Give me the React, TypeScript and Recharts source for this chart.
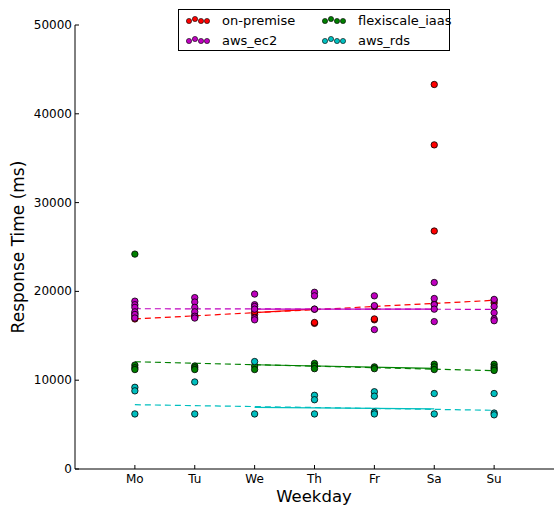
import React from "react";
import { ComposedChart, Scatter, Line, XAxis, YAxis } from "recharts";

const days = ["Mo", "Tu", "We", "Th", "Fr", "Sa", "Su"];
const yTicks = [0, 10000, 20000, 30000, 40000, 50000];

// response times per weekday (ms)
const onPremise = [
  [16900, 17200, 17500],
  [17100, 17300],
  [17400, 17700],
  [16400, 16500, 18000],
  [16800, 16900, 18300],
  [43300, 36500, 26800, 18600],
  [18700, 19000],
];
const awsEc2 = [
  [18900, 18500, 18200, 17700, 17400, 17000],
  [19300, 18800, 18200, 17700, 17200, 17000],
  [19700, 18500, 18300, 18000, 17000, 16800],
  [19900, 19500, 18000],
  [19500, 18400, 15700],
  [21000, 19200, 18500, 18000, 16600],
  [19100, 18300, 17600, 16900, 16700],
];
const flexiscale = [
  [24200, 11700, 11400, 11200],
  [11600, 11400, 11200],
  [11600, 11200],
  [11900, 11600, 11300],
  [11500, 11300],
  [11800, 11500, 11200],
  [11800, 11500, 11300, 11100],
];
const awsRds = [
  [9200, 8800, 6200],
  [9800, 6200],
  [12100, 6200],
  [8300, 7800, 6200],
  [8700, 8200, 6400, 6200],
  [8500, 6200],
  [8500, 6300, 6100],
];

// trend lines: [dayIndex, value]
const trendDashed = {
  onPremise: [[0, 16900], [6, 19000]],
  awsEc2: [[0, 18050], [6, 17980]],
  flexiscale: [[0, 12080], [6, 11070]],
  awsRds: [[0, 7240], [6, 6610]],
};
const trendSolid = {
  onPremise: [[2, 17600], [3, 18000]],
  awsEc2: [[2, 18000], [5, 18000]],
  flexiscale: [[2, 11740], [5, 11340]],
  awsRds: [[2, 6940], [5, 6760]],
};

const series = [
  { key: "onPremise", name: "on-premise", color: "#ff0000", values: onPremise },
  { key: "awsEc2", name: "aws_ec2", color: "#bf00bf", values: awsEc2 },
  { key: "flexiscale", name: "flexiscale_iaas", color: "#008000", values: flexiscale },
  { key: "awsRds", name: "aws_rds", color: "#00bfbf", values: awsRds },
];

const FONT = "DejaVu Sans, sans-serif";

const toPoints = (vals: number[][]) =>
  vals.flatMap((day, i) => day.map((y) => ({ x: i, y })));
const toLine = (pts: number[][]) => pts.map(([x, y]) => ({ x, y }));

const Dot = (color: string) => (props: any) => (
  <circle cx={props.cx} cy={props.cy} r={3.2} fill={color} stroke="#000" strokeWidth={0.8} />
);

const BottomTick = ({ x, y, payload }: any) => (
  <g>
    <line x1={x} y1={y} x2={x} y2={y - 4} stroke="#000" />
    <text x={x} y={y + 14} textAnchor="middle" fontSize={12} fontFamily={FONT} fill="#000">
      {days[payload.value]}
    </text>
  </g>
);
const TopTick = ({ x, y }: any) => <line x1={x} y1={y} x2={x} y2={y + 4} stroke="#000" />;
const LeftTick = ({ x, y, payload }: any) => (
  <g>
    <line x1={x} y1={y} x2={x + 4} y2={y} stroke="#000" />
    <text x={x - 3} y={y + 4} textAnchor="end" fontSize={12} fontFamily={FONT} fill="#000">
      {payload.value}
    </text>
  </g>
);
const RightTick = ({ x, y }: any) => <line x1={x} y1={y} x2={x - 4} y2={y} stroke="#000" />;

const LegendMarker = ({ color }: { color: string }) => (
  <svg width={26} height={10} style={{ verticalAlign: "middle", flex: "none" }}>
    {[[4, 6], [10, 4], [16, 6], [22, 6]].map(([cx, cy], i) => (
      <circle key={i} cx={cx} cy={cy} r={2.6} fill={color} stroke="#000" strokeWidth={0.6} />
    ))}
  </svg>
);

export default function App() {
  return (
    <div style={{ position: "absolute", left: 0, top: 0, width: 555, height: 505, background: "#fff" }}>
      <ComposedChart width={555} height={505} margin={{ top: 25, right: 1, bottom: 6, left: 17 }}>
        <XAxis
          dataKey="x"
          type="number"
          domain={[-1, 7]}
          ticks={[0, 1, 2, 3, 4, 5, 6]}
          height={30}
          tickSize={0}
          tickMargin={0}
          tick={<BottomTick />}
          axisLine={{ stroke: "#000" }}
          tickLine={false}
          allowDataOverflow
        />
        <XAxis
          xAxisId="top"
          orientation="top"
          type="number"
          domain={[-1, 7]}
          ticks={[0, 1, 2, 3, 4, 5, 6]}
          height={0}
          tickSize={0}
          tickMargin={0}
          tick={<TopTick />}
          axisLine={{ stroke: "#000" }}
          tickLine={false}
        />
        <YAxis
          type="number"
          domain={[0, 50000]}
          ticks={yTicks}
          width={58}
          tickSize={0}
          tickMargin={0}
          tick={<LeftTick />}
          axisLine={{ stroke: "#000" }}
          tickLine={false}
          allowDataOverflow
        />
        <YAxis
          yAxisId="right"
          orientation="right"
          type="number"
          domain={[0, 50000]}
          ticks={yTicks}
          width={0}
          tickSize={0}
          tickMargin={0}
          tick={<RightTick />}
          axisLine={{ stroke: "#000" }}
          tickLine={false}
        />
        {series.map((s) => (
          <Scatter
            key={s.key}
            name={s.name}
            data={toPoints(s.values)}
            dataKey="y"
            shape={Dot(s.color)}
            isAnimationActive={false}
          />
        ))}
        {series.map((s) => (
          <Line
            key={s.key + "-dash"}
            data={toLine((trendDashed as any)[s.key])}
            dataKey="y"
            stroke={s.color}
            strokeWidth={1.2}
            strokeDasharray="6 4"
            dot={false}
            activeDot={false}
            isAnimationActive={false}
          />
        ))}
        {series.map((s) => (
          <Line
            key={s.key + "-solid"}
            data={toLine((trendSolid as any)[s.key])}
            dataKey="y"
            stroke={s.color}
            strokeWidth={1.2}
            dot={false}
            activeDot={false}
            isAnimationActive={false}
          />
        ))}
      </ComposedChart>

      <svg width={555} height={505} style={{ position: "absolute", left: 0, top: 0, pointerEvents: "none" }}>
        <text
          x={24}
          y={247}
          transform="rotate(-90 24 247)"
          textAnchor="middle"
          fontSize={17}
          fontFamily={FONT}
          fill="#000"
        >
          Response Time (ms)
        </text>
        <text x={314} y={502} textAnchor="middle" fontSize={16.5} fontFamily={FONT} fill="#000">
          Weekday
        </text>
      </svg>

      <div
        style={{
          position: "absolute",
          left: 178,
          top: 9,
          width: 270,
          height: 40,
          border: "1px solid #000",
          background: "#fff",
          fontFamily: FONT,
          fontSize: 13,
          display: "grid",
          gridTemplateColumns: "136px 134px",
          gridTemplateRows: "20px 20px",
          boxSizing: "content-box",
        }}
      >
        {[series[0], series[2], series[1], series[3]].map((s) => (
          <div key={s.key} style={{ display: "flex", alignItems: "center", paddingLeft: 6, whiteSpace: "nowrap" }}>
            <LegendMarker color={s.color} />
            <span style={{ marginLeft: 11 }}>{s.name}</span>
          </div>
        ))}
      </div>
    </div>
  );
}
